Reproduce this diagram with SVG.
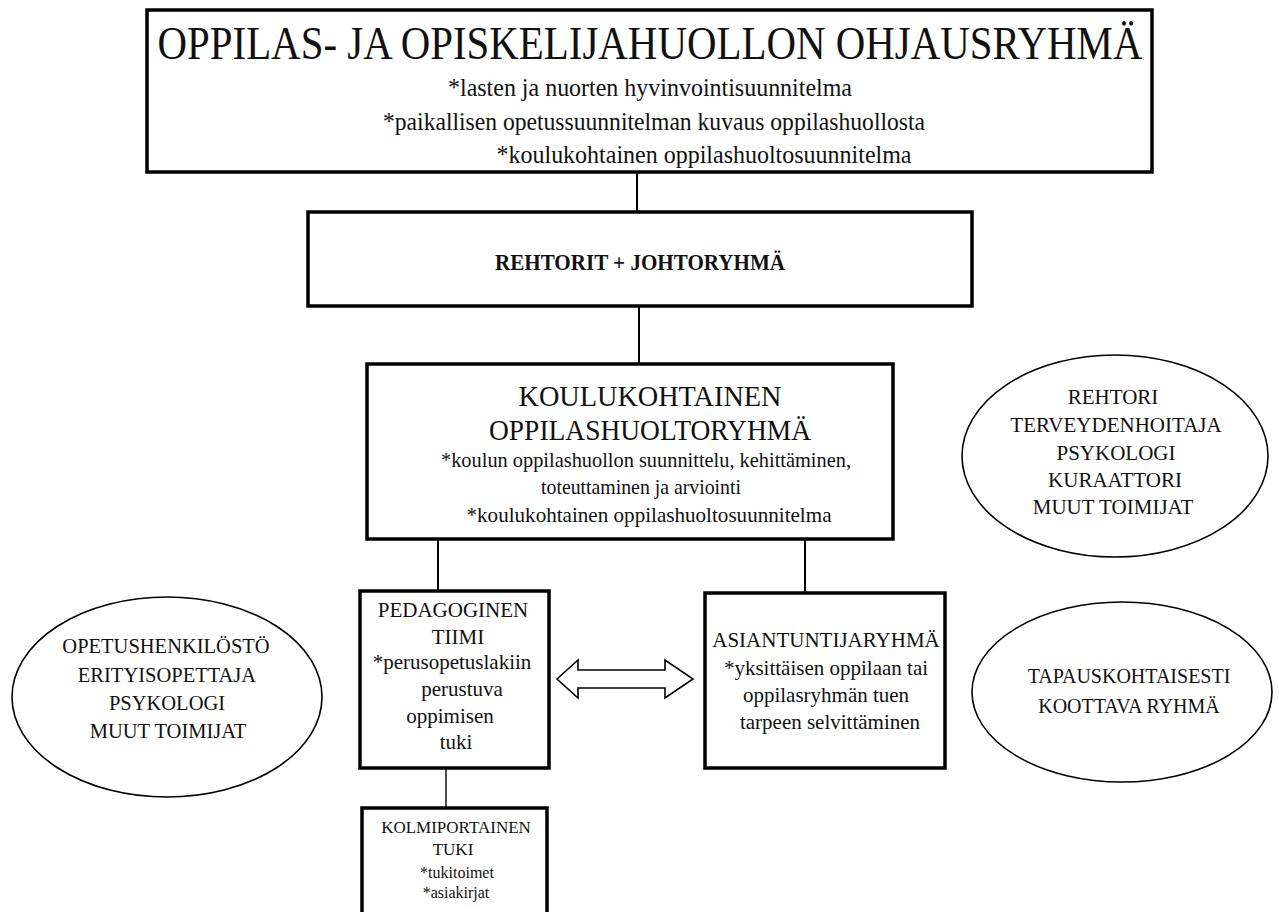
<svg xmlns="http://www.w3.org/2000/svg" width="1279" height="912" viewBox="0 0 1279 912">
<style>
text{font-family:"Liberation Serif","Times New Roman",serif;fill:#111;text-anchor:middle}
.box{fill:#fff;stroke:#000;stroke-width:3.5}
.ell{fill:#fff;stroke:#000;stroke-width:1.6}
.con{stroke:#000;stroke-width:2;fill:none}
</style>
<rect width="1279" height="912" fill="#fff"/>
<g id="connectors">
<line class="con" x1="637" y1="172" x2="637" y2="212"/>
<line class="con" x1="639" y1="306" x2="639" y2="364"/>
<line class="con" x1="438" y1="539" x2="438" y2="591"/>
<line class="con" x1="805" y1="539" x2="805" y2="593"/>
<line class="con" x1="446" y1="768" x2="446" y2="808" style="stroke-width:1.4"/>
<polygon points="557,679 578,660 578,670 665,670 665,660 693,679 665,698 665,688 578,688 578,698" fill="#fff" stroke="#000" stroke-width="1.6"/>
</g>
<g id="ohjausryhma">
<rect class="box" x="147" y="10" width="1005" height="162"/>
<text x="650" y="59" font-size="46" textLength="985" lengthAdjust="spacingAndGlyphs">OPPILAS- JA OPISKELIJAHUOLLON OHJAUSRYHMÄ</text>
<text x="650" y="96" font-size="26" textLength="404" lengthAdjust="spacingAndGlyphs">*lasten ja nuorten hyvinvointisuunnitelma</text>
<text x="654" y="130" font-size="26" textLength="542" lengthAdjust="spacingAndGlyphs">*paikallisen opetussuunnitelman kuvaus oppilashuollosta</text>
<text x="704" y="163" font-size="26" textLength="415" lengthAdjust="spacingAndGlyphs">*koulukohtainen oppilashuoltosuunnitelma</text>
</g>
<g id="johtoryhma">
<rect class="box" x="308" y="212" width="664" height="94"/>
<text x="640" y="270" font-size="24" font-weight="bold" textLength="290" lengthAdjust="spacingAndGlyphs">REHTORIT + JOHTORYHMÄ</text>
</g>
<g id="oppilashuoltoryhma">
<rect class="box" x="367" y="364" width="526" height="175"/>
<text x="650" y="406" font-size="30" textLength="263" lengthAdjust="spacingAndGlyphs">KOULUKOHTAINEN</text>
<text x="650" y="440" font-size="30" textLength="322" lengthAdjust="spacingAndGlyphs">OPPILASHUOLTORYHMÄ</text>
<text x="646" y="467" font-size="22" textLength="410" lengthAdjust="spacingAndGlyphs">*koulun oppilashuollon suunnittelu, kehittäminen,</text>
<text x="641" y="494" font-size="22" textLength="200" lengthAdjust="spacingAndGlyphs">toteuttaminen ja arviointi</text>
<text x="649" y="522" font-size="22" textLength="365" lengthAdjust="spacingAndGlyphs">*koulukohtainen oppilashuoltosuunnitelma</text>
</g>
<g id="pedagoginen">
<rect class="box" x="360" y="591" width="189" height="177"/>
<text x="453" y="617" font-size="21">PEDAGOGINEN</text>
<text x="458" y="644" font-size="21">TIIMI</text>
<text x="452" y="669" font-size="21">*perusopetuslakiin</text>
<text x="462" y="696" font-size="21">perustuva</text>
<text x="450" y="723" font-size="21">oppimisen</text>
<text x="456" y="749" font-size="21">tuki</text>
</g>
<g id="asiantuntijaryhma">
<rect class="box" x="705" y="593" width="240" height="175"/>
<text x="826" y="647" font-size="21">ASIANTUNTIJARYHMÄ</text>
<text x="826" y="675" font-size="21">*yksittäisen oppilaan tai</text>
<text x="826" y="702" font-size="21">oppilasryhmän tuen</text>
<text x="830" y="729" font-size="21">tarpeen selvittäminen</text>
</g>
<g id="kolmiportainen">
<rect class="box" x="362" y="808" width="185" height="110"/>
<text x="456" y="833" font-size="17">KOLMIPORTAINEN</text>
<text x="453" y="855" font-size="17">TUKI</text>
<text x="457" y="878" font-size="16">*tukitoimet</text>
<text x="456" y="898" font-size="16">*asiakirjat</text>
</g>
<g id="opetushenkilosto">
<ellipse class="ell" cx="167" cy="697" rx="155" ry="100"/>
<text x="166" y="653" font-size="20.5">OPETUSHENKILÖSTÖ</text>
<text x="167" y="682" font-size="20.5">ERITYISOPETTAJA</text>
<text x="167" y="710" font-size="20.5">PSYKOLOGI</text>
<text x="168" y="738" font-size="20.5">MUUT TOIMIJAT</text>
</g>
<g id="rehtori">
<ellipse class="ell" cx="1115" cy="456" rx="153" ry="101"/>
<text x="1113" y="404" font-size="21">REHTORI</text>
<text x="1116" y="432" font-size="21">TERVEYDENHOITAJA</text>
<text x="1116" y="460" font-size="21">PSYKOLOGI</text>
<text x="1115" y="487" font-size="21">KURAATTORI</text>
<text x="1113" y="514" font-size="21">MUUT TOIMIJAT</text>
</g>
<g id="tapauskohtainen">
<ellipse class="ell" cx="1122" cy="692" rx="150" ry="90"/>
<text x="1129" y="683" font-size="20">TAPAUSKOHTAISESTI</text>
<text x="1129" y="713" font-size="20">KOOTTAVA RYHMÄ</text>
</g>
</svg>
